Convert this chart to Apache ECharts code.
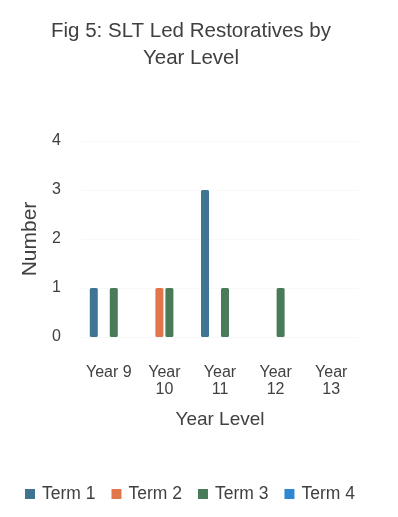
<!DOCTYPE html>
<html>
<head>
<meta charset="utf-8">
<script src="https://cdn.jsdelivr.net/npm/echarts@6/dist/echarts.min.js"></script>
<style>
  html, body { margin: 0; padding: 0; background: #ffffff; }
  #chart { width: 398px; height: 517px; }
</style>
</head>
<body>
<div id="chart"></div>
<script>
// Restorative sessions led by SLT, counted per year level and term
const yearLevels = ['Year 9', 'Year\n10', 'Year\n11', 'Year\n12', 'Year\n13'];
const termNames = ['Term 1', 'Term 2', 'Term 3', 'Term 4'];
const term1 = [1, null, 3, null, null];
const term2 = [null, 1, null, null, null];
const term3 = [1, 1, 1, 1, null];
const term4 = [null, null, null, null, null];
const termColors = ['#3f7592', '#e0764a', '#4a7b59', '#2f87d2'];
const yTicks = [0, 1, 2, 3, 4];

const textColor = '#404040';
const fontFamily = '"Liberation Sans", Arial, sans-serif';

const chart = echarts.init(document.getElementById('chart'));

const seriesData = [term1, term2, term3, term4];

chart.setOption({
  animation: false,
  backgroundColor: '#ffffff',
  title: {
    text: 'Fig 5: SLT Led Restoratives by\nYear Level',
    left: 186,
    top: 13,
    textAlign: 'center',
    textStyle: {
      fontFamily: fontFamily,
      fontSize: 20.5,
      fontWeight: 'normal',
      color: textColor,
      lineHeight: 27
    }
  },
  legend: {
    data: termNames,
    left: 20,
    top: 480,
    itemWidth: 10,
    itemHeight: 10,
    itemGap: 16,
    icon: 'rect',
    textStyle: { fontFamily: fontFamily, fontSize: 17.5, color: textColor, padding: [0, 0, 0, 2] }
  },
  grid: { left: 81, right: 39, top: 141, bottom: 180, containLabel: false },
  xAxis: {
    type: 'category',
    data: yearLevels,
    name: 'Year Level',
    nameLocation: 'middle',
    nameGap: 73,
    nameTextStyle: { fontFamily: fontFamily, fontSize: 19, color: textColor },
    axisLine: { show: false },
    axisTick: { show: false },
    axisLabel: {
      fontFamily: fontFamily,
      fontSize: 16,
      color: textColor,
      margin: 27,
      lineHeight: 17,
      verticalAlign: 'top',
      interval: 0
    }
  },
  yAxis: {
    type: 'value',
    min: yTicks[0],
    max: yTicks[yTicks.length - 1],
    interval: 1,
    name: 'Number',
    nameLocation: 'middle',
    nameGap: 37,
    nameTextStyle: { fontFamily: fontFamily, fontSize: 21, color: textColor },
    axisLine: { show: false },
    axisTick: { show: false },
    axisLabel: { fontFamily: fontFamily, fontSize: 16, color: textColor, margin: 20 },
    splitLine: { lineStyle: { color: '#f8f8f8', width: 1 } }
  },
  series: termNames.map((name, i) => ({
    name: name,
    type: 'bar',
    data: seriesData[i],
    barWidth: 8,
    barGap: '25%',
    itemStyle: { color: termColors[i], borderRadius: 1.5 }
  }))
});
</script>
</body>
</html>
